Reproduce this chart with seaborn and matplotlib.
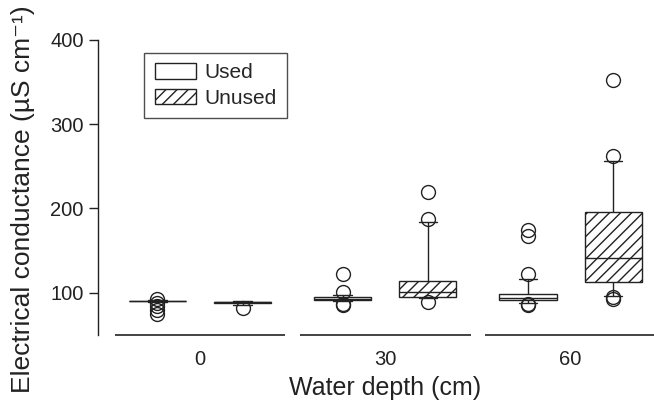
import pandas as pd
import seaborn as sns
import matplotlib.pyplot as plt
from matplotlib.patches import Patch

# electrical conductance readings per water depth (uS/cm)
depths = ['0', '30', '60']
habitats = ['Used', 'Unused']

used_0 = [75, 80, 84.5, 88.5, 89.5, 89.5, 89.5, 89.5, 89.5, 89.5,
          90, 90, 90, 90, 90, 90, 90, 90, 90, 90,
          90, 90, 90, 90, 90, 90, 90, 90, 90, 90,
          90.5, 90.5, 90.5, 90.5, 90.5, 90.5, 91, 91, 91, 91, 93]
unused_0 = [82, 86, 86, 88, 88, 88.5, 88.5, 88.5, 89, 89, 89,
            89, 89, 89, 89, 89.5, 89.5, 89.5, 90, 90, 90]
used_30 = [85, 87, 90, 90.5, 91, 91, 91.5, 92, 92.5, 92.5, 93,
           93.5, 94, 94.5, 95, 95.5, 96, 96.5, 97, 101.5, 122.5]
unused_30 = [89, 93.5, 93.5, 94, 95, 95.5, 96, 97, 98, 99.5, 101,
             103, 105, 108, 111, 114, 130, 152, 184, 188, 219.5]
used_60 = [85.5, 86.5, 88.5, 88.5, 89, 89.5, 90, 91, 91, 91.5, 92,
           92, 92.5, 93, 93, 93.5, 94, 94.5, 95, 96, 97,
           98, 99, 99, 101, 104, 110, 116.5, 122, 167, 174]
unused_60 = [92.5, 94.5, 96, 101, 106, 113, 118, 124, 130, 136, 141,
             150, 160, 172, 184, 196, 215, 238, 256.5, 262.5, 352]

groups = {('0', 'Used'): used_0, ('0', 'Unused'): unused_0,
          ('30', 'Used'): used_30, ('30', 'Unused'): unused_30,
          ('60', 'Used'): used_60, ('60', 'Unused'): unused_60}

rows = []
for (d, h), vals in groups.items():
    for v in vals:
        rows.append({'depth': d, 'habitat': h, 'ec': v})
df = pd.DataFrame(rows)

sns.set_style('ticks')
plt.rcParams['font.family'] = ['Liberation Sans', 'DejaVu Sans']
ink = '#222222'

fig = plt.figure(figsize=(6.54, 4.11), dpi=100)
ax = fig.add_axes([0.150, 0.185, 0.850, 0.718])

sns.boxplot(data=df, x='depth', y='ec', hue='habitat', order=depths,
            hue_order=habitats, palette={'Used': 'white', 'Unused': 'white'},
            width=0.92, gap=0.33, whis=(10, 90), linecolor=ink, linewidth=1.0,
            flierprops=dict(marker='o', markersize=10, markerfacecolor='none',
                            markeredgecolor=ink, markeredgewidth=1.0),
            capwidths=0.1, legend=False, ax=ax)

# hatch the unused boxes (those right of the category centre)
for p in ax.patches:
    xs = p.get_path().vertices[:, 0]
    cx = (xs.min() + xs.max()) / 2
    if cx - round(cx) > 0:
        p.set_hatch('///')
        p.set_edgecolor(ink)

ax.set_ylim(50, 400)
ax.set_xlim(-0.55, 2.45)
ax.set_yticks([100, 200, 300, 400])
sns.despine(ax=ax, bottom=True)
ax.spines['left'].set_color(ink)
ax.spines['left'].set_linewidth(1.0)

# separate baseline segment under each depth group
for i in range(len(depths)):
    ax.plot([i - 0.46, i + 0.46], [50, 50], color=ink, lw=1.2,
            clip_on=False, solid_capstyle='butt')

ax.tick_params(axis='x', length=0, pad=11, labelsize=14.5, colors=ink)
ax.tick_params(axis='y', length=6.5, width=1.0, pad=4, labelsize=14.5,
               colors=ink)

ax.set_xlabel('Water depth (cm)', fontsize=18, color=ink)
ax.set_ylabel('Electrical conductance (µS cm⁻¹)', fontsize=19, color=ink)
ax.xaxis.set_label_coords(0.516, -0.14)
ax.yaxis.set_label_coords(-0.113, 0.46)

handles = [Patch(facecolor='white', edgecolor=ink, lw=1.0, label='Used'),
           Patch(facecolor='white', edgecolor=ink, lw=1.0, hatch='///',
                 label='Unused')]
leg = ax.legend(handles=handles, loc='upper left',
                bbox_to_anchor=(0.083, 0.956), borderaxespad=0,
                fontsize=15, frameon=True, fancybox=False, edgecolor=ink,
                handlelength=2.0, handleheight=0.75, handletextpad=0.4,
                labelspacing=0.3, borderpad=0.5)
leg.get_frame().set_linewidth(1.0)

plt.savefig('out.png', dpi=100)
